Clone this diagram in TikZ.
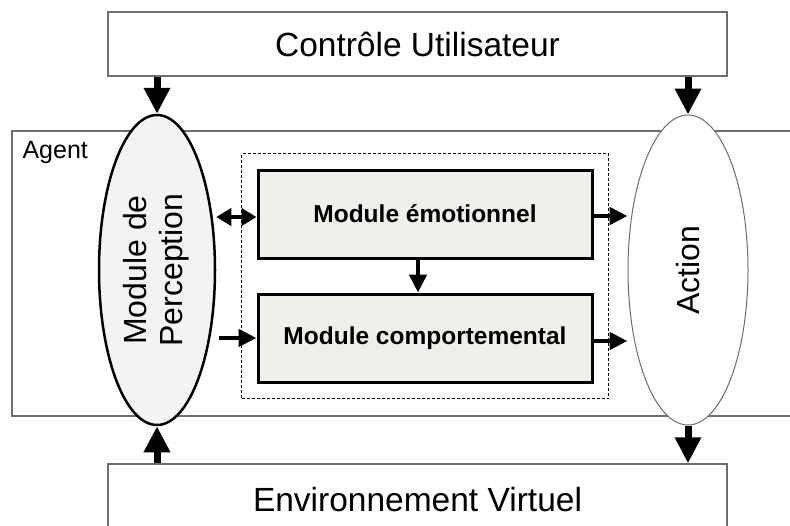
\documentclass[tikz,border=0pt]{standalone}
\usepackage{fontspec}
\setmainfont{Liberation Sans}
\usetikzlibrary{arrows.meta, positioning, shapes.geometric, fit}
\definecolor{boxline}{HTML}{6E6E6E}
\definecolor{modfill}{HTML}{EEF1EA}
\definecolor{percfill}{HTML}{F3F3F3}
\tikzset{
  outer/.style={rectangle, draw=boxline, line width=1.5pt, fill=white, minimum width=619pt,
    minimum height=64pt, inner sep=0pt, font=\fontsize{33.5}{36}\selectfont},
  agentbox/.style={rectangle, draw=boxline, line width=1.5pt, minimum width=790pt,
    minimum height=285pt, inner sep=0pt},
  module/.style={rectangle, draw=black, line width=3pt, fill=modfill, minimum width=334pt,
    minimum height=88pt, inner sep=0pt, font=\fontsize{24.5}{28}\selectfont\bfseries},
  percep/.style={ellipse, draw=black, line width=2.5pt, fill=percfill, minimum width=116pt,
    minimum height=310pt, inner sep=0pt, font=\fontsize{32}{36}\selectfont},
  actell/.style={ellipse, draw=boxline, line width=1pt, fill=white, minimum width=120pt,
    minimum height=310pt, inner sep=0pt, font=\fontsize{32}{35}\selectfont},
  corebox/.style={draw=black, dash pattern=on 3pt off 2pt, line width=0.8pt, inner sep=15pt},
  bigarrow/.style={-{Triangle[width=25pt, length=26pt]}, line width=7pt},
  arrow/.style={-{Triangle[width=17pt, length=18pt]}, line width=4.5pt},
  darrow/.style={{Triangle[width=17pt, length=15pt]}-{Triangle[width=17pt, length=15pt]}, line width=4.5pt},
}

\begin{document}
\begin{tikzpicture}[x=1pt, y=-1pt, node distance=33pt]
\clip (0,0) rectangle (790,525);
\fill[white] (0,0) rectangle (790,525);
\node[agentbox] (agent) at (407,273.5) {};
\node[anchor=west, font=\fontsize{25}{28}\selectfont] (agentlbl) at (19,152) {Agent};
\node[outer] (top) at (417.5,44) {Contrôle Utilisateur};
\node[outer, minimum height=72pt] (env) at (417.5,500) {Environnement Virtuel};
\node[percep] (perc) at (157,270) {\rotatebox{90}{\begin{tabular}{@{}c@{}}Module de\\Perception\end{tabular}}};
\node[actell] (act) at (688,270) {\rotatebox{90}{Action}};
\node[module] (emo) at (425,214) {Module émotionnel};
\node[module, below=of emo] (comp) {Module comportemental};
\node[corebox, fit=(emo)(comp)] (core) {};
\draw[bigarrow] (top.south -| perc.north) -- (perc.north);
\draw[bigarrow] (top.south -| act.north) -- (act.north);
\draw[bigarrow] (env.north -| perc.south) -- (perc.south);
\draw[bigarrow] (act.south) -- (env.north -| act.south);
\draw[darrow] ([yshift=-3pt]perc.east |- emo.west) -- ([yshift=-3pt]emo.west);
\draw[arrow] ([xshift=3pt]perc.east |- comp.west) -- (comp.west);
\draw[arrow] ([yshift=-2pt]emo.east) -- ([yshift=-2pt]emo.east -| act.west);
\draw[arrow] ([yshift=-3pt]comp.east) -- ([yshift=-3pt]comp.east -| act.west);
\draw[arrow] ([xshift=-7pt]emo.south) -- ([xshift=-7pt]comp.north);
\end{tikzpicture}
\end{document}
